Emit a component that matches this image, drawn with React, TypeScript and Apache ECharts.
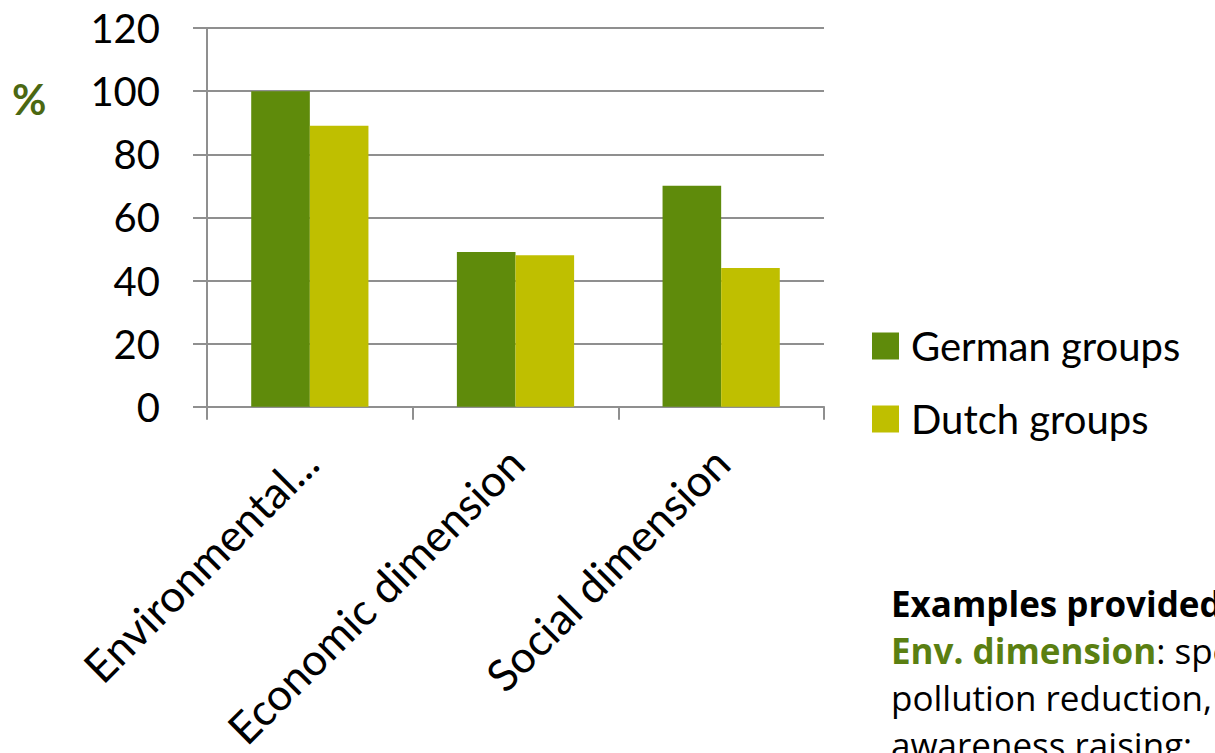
import React, { useEffect, useRef } from "react";
import * as echarts from "echarts";

// Share of groups naming each sustainability dimension (%)
const categories = ["Environmental dimension", "Economic dimension", "Social dimension"];
const germanGroups = [100, 49, 70];
const dutchGroups = [89, 48, 44];
const seriesNames = ["German groups", "Dutch groups"];
const yTicks = { min: 0, max: 120, interval: 20 };

const GREEN = "#5f8b0b";
const YELLOW = "#bfbf00";
const GRID = "#8f8f8f";
const FONT = "Lato, 'Open Sans', sans-serif";
const NOTE_FONT = "'Open Sans', Lato, sans-serif";

export default function App() {
  const ref = useRef<HTMLDivElement>(null);

  useEffect(() => {
    if (!ref.current) return;
    const chart = echarts.init(ref.current, undefined, { renderer: "svg" });
    chart.setOption({
      animation: false,
      backgroundColor: "#ffffff",
      textStyle: { fontFamily: FONT },
      grid: { left: 207, top: 28, width: 617, height: 379, containLabel: false },
      legend: {
        orient: "vertical",
        left: 872,
        top: 322,
        padding: 0,
        itemWidth: 27,
        itemHeight: 27,
        itemGap: 25,
        icon: "rect",
        data: seriesNames,
        textStyle: { fontSize: 40, lineHeight: 48, color: "#000", fontFamily: FONT, padding: [0, 0, 0, 7] },
      },
      xAxis: {
        type: "category",
        data: categories,
        axisLine: { show: true, lineStyle: { color: GRID, width: 2 } },
        axisTick: { show: true, length: 13, lineStyle: { color: GRID, width: 2 } },
        axisLabel: {
          rotate: 45,
          margin: 48,
          fontSize: 44,
          color: "#000",
          fontFamily: FONT,
          formatter: (v: string) => (v.length > 20 ? v.split(" ")[0] + "..." : v),
        },
      },
      yAxis: {
        type: "value",
        min: yTicks.min,
        max: yTicks.max,
        interval: yTicks.interval,
        axisLine: { show: true, lineStyle: { color: GRID, width: 2 } },
        axisTick: { show: true, length: 14, lineStyle: { color: GRID, width: 2 } },
        splitLine: { show: true, lineStyle: { color: GRID, width: 2 } },
        axisLabel: { fontSize: 40, color: "#000", margin: 47, fontFamily: FONT },
      },
      series: [
        {
          name: seriesNames[0],
          type: "bar",
          data: germanGroups,
          itemStyle: { color: GREEN },
          barGap: "0%",
          barCategoryGap: "43%",
        },
        {
          name: seriesNames[1],
          type: "bar",
          data: dutchGroups,
          itemStyle: { color: YELLOW },
          barGap: "0%",
          barCategoryGap: "43%",
        },
      ],
      graphic: [
        {
          type: "text",
          left: 12,
          top: 78,
          style: { text: "%", fontSize: 42, fontWeight: "bold", fill: "#4b6812", fontFamily: FONT },
        },
        {
          type: "text",
          left: 891,
          top: 586,
          style: {
            text:
              "{b|Examples provided}\n{g|Env. dimension}{n|: species}\n{n|pollution reduction,}\n{n|awareness raising;}",
            fontFamily: NOTE_FONT,
            rich: {
              b: { fontSize: 35, fontWeight: "bold", fill: "#000", lineHeight: 47, fontFamily: NOTE_FONT },
              g: { fontSize: 35, fontWeight: "bold", fill: "#5a7f12", lineHeight: 47, fontFamily: NOTE_FONT },
              n: { fontSize: 35, fill: "#000", lineHeight: 47, fontFamily: NOTE_FONT },
            },
          },
        },
      ],
    });
    return () => chart.dispose();
  }, []);

  return (
    <div
      ref={ref}
      style={{ position: "fixed", left: 0, top: 0, width: 1215, height: 753, background: "#fff" }}
    />
  );
}
